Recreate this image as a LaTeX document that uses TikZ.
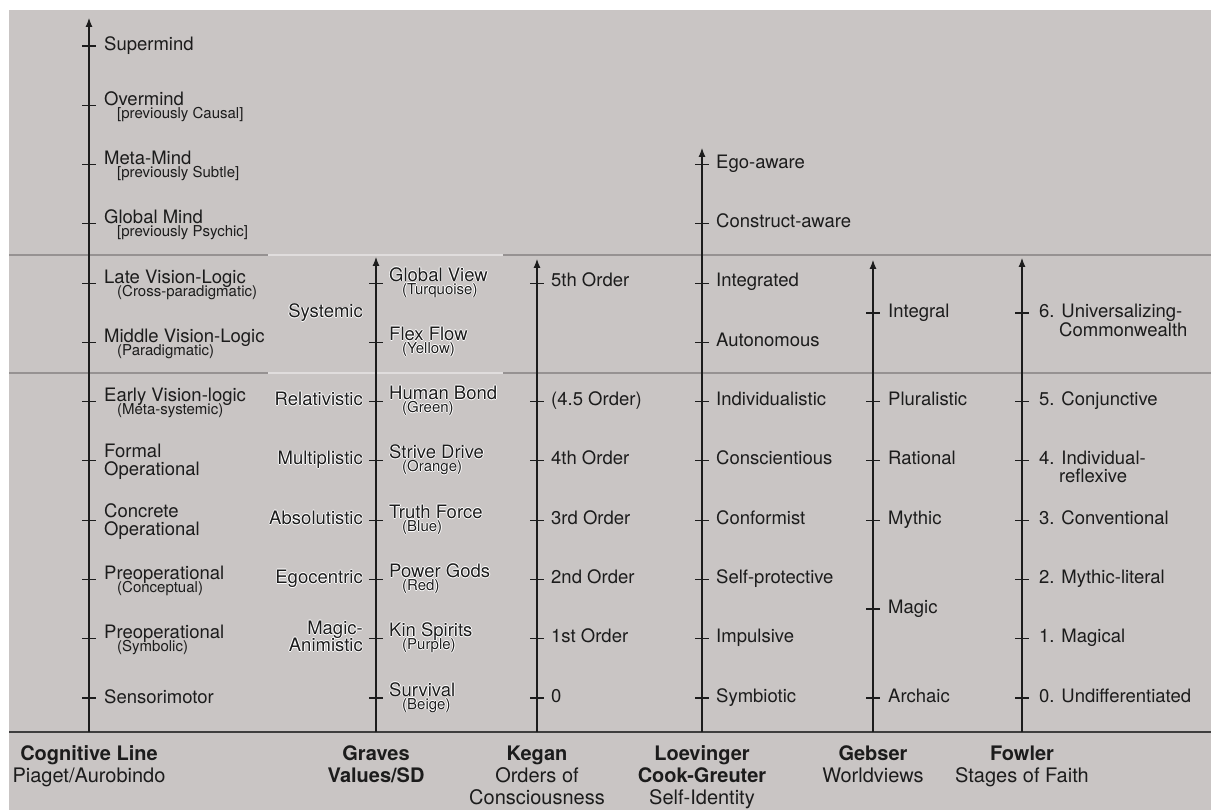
\documentclass[tikz,border=0pt]{standalone}
\usepackage{fontspec}
\setmainfont{TeX Gyre Heros}
\usetikzlibrary{arrows.meta}
\definecolor{bg}{RGB}{201,197,196}
\definecolor{ink}{RGB}{28,28,28}
\definecolor{sepdark}{RGB}{150,146,146}
\definecolor{seplight}{RGB}{224,221,221}
\newcommand\halo[1]{\leavevmode\rlap{\color{white}\kern-.9pt#1}\rlap{\color{white}\kern.9pt#1}\rlap{\color{white}\raisebox{.9pt}{#1}}\rlap{\color{white}\raisebox{-.9pt}{#1}}#1}
\newcommand\Y[1]{46+59.273*#1}
\tikzset{
  lab/.style={anchor=base west, inner sep=0pt, text=ink, font=\fontsize{18.5}{20}\selectfont},
  sublab/.style={lab, font=\fontsize{15}{16}\selectfont},
  rlab/.style={lab, anchor=base east},
  foot/.style={anchor=base, inner sep=0pt, text=ink, font=\fontsize{20}{22}\selectfont},
  footb/.style={foot, font=\bfseries\fontsize{20}{22}\selectfont},
  axisline/.style={draw=ink, line width=1.1pt, -{Latex[length=9pt,width=7pt]}},
  tickline/.style={draw=ink, line width=1.1pt},
  sepline/.style={draw=sepdark, line width=2pt},
  seplt/.style={draw=seplight, line width=1.6pt},
  baserule/.style={draw=ink!85, line width=2.2pt}
}
\begin{document}
\begin{tikzpicture}[x=1pt,y=-1pt]
\useasboundingbox (0,0) rectangle (1211,810);
\fill[white] (0,0) rectangle (1211,810);
\fill[bg] (9,10) rectangle (1211,810);
% separators
\coordinate (sL1) at (9,255); \coordinate (sA1) at (268,255);
\coordinate (sB1) at (503,255); \coordinate (sR1) at (1211,255);
\coordinate (sL2) at (9,373); \coordinate (sA2) at (268,373);
\coordinate (sB2) at (503,373); \coordinate (sR2) at (1211,373);
\draw[sepline] (sL1) -- (sA1); \draw[seplt] (sA1) -- (sB1); \draw[sepline] (sB1) -- (sR1);
\draw[sepline] (sL2) -- (sA2); \draw[seplt] (sA2) -- (sB2); \draw[sepline] (sB2) -- (sR2);
% base rule
\coordinate (bL) at (9,732); \coordinate (bR) at (1211,732);
\draw[baserule] (bL) -- (bR);
% axes
\coordinate (cogB) at (89,732);  \coordinate (cogT) at (89,18);
\coordinate (grvB) at (376,732); \coordinate (grvT) at (376,257);
\coordinate (kegB) at (537,732); \coordinate (kegT) at (537,259);
\coordinate (loeB) at (702,732); \coordinate (loeT) at (702,148);
\coordinate (gebB) at (873,732); \coordinate (gebT) at (873,260);
\coordinate (fowB) at (1022,732);\coordinate (fowT) at (1022,258);
\draw[axisline] (cogB) -- (cogT);
\draw[axisline] (grvB) -- (grvT);
\draw[axisline] (kegB) -- (kegT);
\draw[axisline] (loeB) -- (loeT);
\draw[axisline] (gebB) -- (gebT);
\draw[axisline] (fowB) -- (fowT);
% ticks
\foreach \k in {0,...,11} \draw[tickline] (89,\Y{\k}) ++(-7,0) -- ++(14,0);
\foreach \k in {4,...,11} \draw[tickline] (376,\Y{\k}) ++(-7,0) -- ++(14,0);
\foreach \k in {4,6,7,8,9,10,11} \draw[tickline] (537,\Y{\k}) ++(-7,0) -- ++(14,0);
\foreach \k in {2,...,11} \draw[tickline] (702,\Y{\k}) ++(-7,0) -- ++(14,0);
\foreach \yy in {313,\Y{6},\Y{7},\Y{8},609,\Y{11}} \draw[tickline] (873,\yy) ++(-7,0) -- ++(14,0);
\foreach \yy in {313,\Y{6},\Y{7},\Y{8},\Y{9},\Y{10},\Y{11}} \draw[tickline] (1022,\yy) ++(-7,0) -- ++(14,0);
% Cognitive labels
\node[lab] (c0) at (104,\Y{0}+5) {Supermind};
\node[lab] (c1) at (104,\Y{1}) {Overmind};
\node[sublab] (c1s) at (117,\Y{1}+13) {[previously Causal]};
\node[lab] (c2) at (104,\Y{2}) {Meta-Mind};
\node[sublab] (c2s) at (117,\Y{2}+13) {[previously Subtle]};
\node[lab] (c3) at (104,\Y{3}) {Global Mind};
\node[sublab] (c3s) at (117,\Y{3}+13) {[previously Psychic]};
\node[lab] (c4) at (104,\Y{4}) {Late Vision-Logic};
\node[sublab] (c4s) at (117,\Y{4}+13) {(Cross-paradigmatic)};
\node[lab] (c5) at (104,\Y{5}) {Middle Vision-Logic};
\node[sublab] (c5s) at (117,\Y{5}+13) {(Paradigmatic)};
\node[lab] (c6) at (104,\Y{6}) {Early Vision-logic};
\node[sublab] (c6s) at (117,\Y{6}+13) {(Meta-systemic)};
\node[lab] (c7) at (104,\Y{7}-3) {Formal};
\node[lab] (c7b) at (104,\Y{7}+15) {Operational};
\node[lab] (c8) at (104,\Y{8}-3) {Concrete};
\node[lab] (c8b) at (104,\Y{8}+15) {Operational};
\node[lab] (c9) at (104,\Y{9}) {Preoperational};
\node[sublab] (c9s) at (117,\Y{9}+13) {(Conceptual)};
\node[lab] (c10) at (104,\Y{10}) {Preoperational};
\node[sublab] (c10s) at (117,\Y{10}+13) {(Symbolic)};
\node[lab] (c11) at (104,\Y{11}+5) {Sensorimotor};
% Graves left labels
\node[rlab] (gl1) at (363,318) {\halo{Systemic}};
\node[rlab] (gl2) at (363,\Y{6}+4) {\halo{Relativistic}};
\node[rlab] (gl3) at (363,\Y{7}+4) {\halo{Multiplistic}};
\node[rlab] (gl4) at (363,\Y{8}+4) {\halo{Absolutistic}};
\node[rlab] (gl5) at (363,\Y{9}+4) {\halo{Egocentric}};
\node[rlab] (gl6) at (363,\Y{10}-4) {\halo{Magic-}};
\node[rlab] (gl6b) at (363,\Y{10}+13) {\halo{Animistic}};
% Graves right labels
\node[lab] (g4) at (389,\Y{4}-2) {\halo{Global View}};
\node[sublab] (g4s) at (402,\Y{4}+11) {\halo{(Turquoise)}};
\node[lab] (g5) at (389,\Y{5}-2) {\halo{Flex Flow}};
\node[sublab] (g5s) at (402,\Y{5}+11) {\halo{(Yellow)}};
\node[lab] (g6) at (389,\Y{6}-2) {\halo{Human Bond}};
\node[sublab] (g6s) at (402,\Y{6}+11) {\halo{(Green)}};
\node[lab] (g7) at (389,\Y{7}-2) {\halo{Strive Drive}};
\node[sublab] (g7s) at (402,\Y{7}+11) {\halo{(Orange)}};
\node[lab] (g8) at (389,\Y{8}-2) {\halo{Truth Force}};
\node[sublab] (g8s) at (402,\Y{8}+11) {\halo{(Blue)}};
\node[lab] (g9) at (389,\Y{9}-2) {\halo{Power Gods}};
\node[sublab] (g9s) at (402,\Y{9}+11) {\halo{(Red)}};
\node[lab] (g10) at (389,\Y{10}-2) {\halo{Kin Spirits}};
\node[sublab] (g10s) at (402,\Y{10}+11) {\halo{(Purple)}};
\node[lab] (g11) at (389,\Y{11}-2) {\halo{Survival}};
\node[sublab] (g11s) at (402,\Y{11}+11) {\halo{(Beige)}};
% Kegan
\node[lab] (k4) at (551,\Y{4}+3) {5th Order};
\node[lab] (k6) at (551,\Y{6}+4) {(4.5 Order)};
\node[lab] (k7) at (551,\Y{7}+4) {4th Order};
\node[lab] (k8) at (551,\Y{8}+4) {3rd Order};
\node[lab] (k9) at (551,\Y{9}+4) {2nd Order};
\node[lab] (k10) at (551,\Y{10}+4) {1st Order};
\node[lab] (k11) at (551,\Y{11}+4) {0};
% Loevinger
\node[lab] (l2) at (716,\Y{2}+4) {Ego-aware};
\node[lab] (l3) at (716,\Y{3}+4) {Construct-aware};
\node[lab] (l4) at (716,\Y{4}+3) {Integrated};
\node[lab] (l5) at (716,\Y{5}+4) {Autonomous};
\node[lab] (l6) at (716,\Y{6}+4) {Individualistic};
\node[lab] (l7) at (716,\Y{7}+4) {Conscientious};
\node[lab] (l8) at (716,\Y{8}+4) {Conformist};
\node[lab] (l9) at (716,\Y{9}+4) {Self-protective};
\node[lab] (l10) at (716,\Y{10}+4) {Impulsive};
\node[lab] (l11) at (716,\Y{11}+4) {Symbiotic};
% Gebser
\node[lab] (e1) at (888,318) {Integral};
\node[lab] (e2) at (888,\Y{6}+4) {Pluralistic};
\node[lab] (e3) at (888,\Y{7}+4) {Rational};
\node[lab] (e4) at (888,\Y{8}+4) {Mythic};
\node[lab] (e5) at (888,613) {Magic};
\node[lab] (e6) at (888,\Y{11}+4) {Archaic};
% Fowler
\node[lab] (w6) at (1039,318) {6. Universalizing-};
\node[lab] (w6b) at (1059,337) {Commonwealth};
\node[lab] (w5) at (1039,\Y{6}+4) {5. Conjunctive};
\node[lab] (w4) at (1039,\Y{7}+4) {4. Individual-};
\node[lab] (w4b) at (1059,\Y{7}+22) {reflexive};
\node[lab] (w3) at (1039,\Y{8}+4) {3. Conventional};
\node[lab] (w2) at (1039,\Y{9}+4) {2. Mythic-literal};
\node[lab] (w1) at (1039,\Y{10}+4) {1. Magical};
\node[lab] (w0) at (1039,\Y{11}+4) {0. Undifferentiated};
% footer
\node[footb] (f1a) at (89,760) {Cognitive Line};
\node[foot]  (f1b) at (89,782) {Piaget/Aurobindo};
\node[footb] (f2a) at (376,760) {Graves};
\node[footb] (f2b) at (376,782) {Values/SD};
\node[footb] (f3a) at (537,760) {Kegan};
\node[foot]  (f3b) at (537,782) {Orders of};
\node[foot]  (f3c) at (537,804) {Consciousness};
\node[footb] (f4a) at (702,760) {Loevinger};
\node[footb] (f4b) at (702,782) {Cook-Greuter};
\node[foot]  (f4c) at (702,804) {Self-Identity};
\node[footb] (f5a) at (873,760) {Gebser};
\node[foot]  (f5b) at (873,782) {Worldviews};
\node[footb] (f6a) at (1022,760) {Fowler};
\node[foot]  (f6b) at (1022,782) {Stages of Faith};
\end{tikzpicture}
\end{document}
